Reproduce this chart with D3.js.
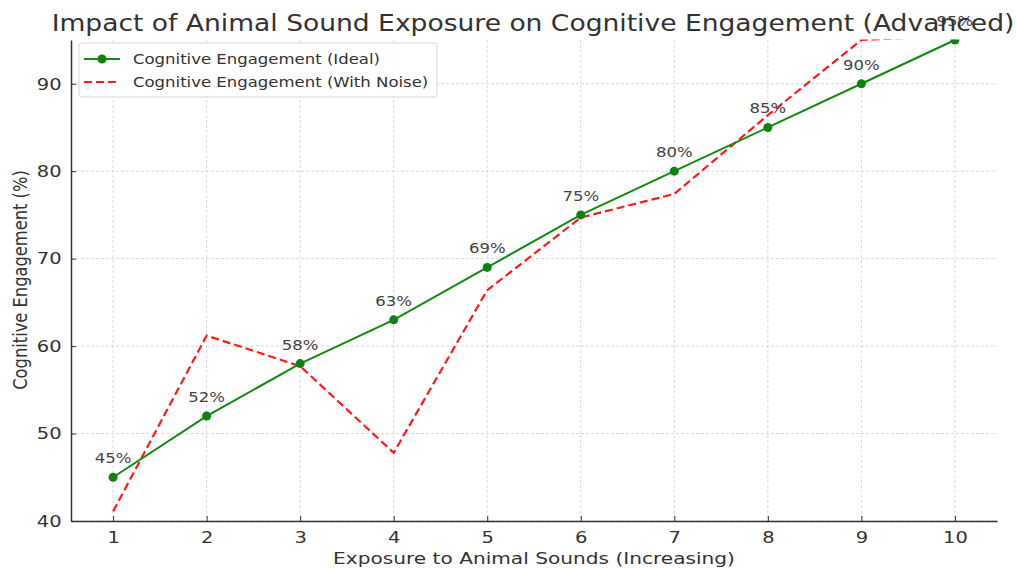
<!DOCTYPE html>
<html><head><meta charset="utf-8">
<script src="https://cdn.jsdelivr.net/npm/d3@7"></script>
<style>body{margin:0;background:#fff;} svg{display:block;font-family:"DejaVu Sans",sans-serif;}</style>
</head><body>
<svg id="c" width="1016" height="569"></svg>
<script>
const exposure = [1,2,3,4,5,6,7,8,9,10];
const idealValues = [45,52,58,63,69,75,80,85,90,95];
const noiseValues = [41.1,61.2,57.7,47.8,66.4,74.7,77.4,86.4,95.0,95.5];
const xTicks = [1,2,3,4,5,6,7,8,9,10];
const yTicks = [40,50,60,70,80,90];
const seriesNames = ["Cognitive Engagement (Ideal)","Cognitive Engagement (With Noise)"];

const SX = 1.18; // horizontal text stretch seen in the reference
const svg = d3.select("#c");
const L=71, R=997, T=40, B=521;
const x = d3.scaleLinear().domain([0.55,10.45]).range([L,R]);
const y = d3.scaleLinear().domain([40,95]).range([B,T]);

function stext(parent, tx, ty, str, size, anchor, sx){
  return parent.append("text").attr("transform",`translate(${tx},${ty}) scale(${sx||SX},1)`)
    .attr("text-anchor",anchor||"middle").attr("font-size",size).attr("fill","#333").text(str);
}

// grid
const g = svg.append("g");
g.selectAll(".gx").data(xTicks).enter().append("line")
  .attr("x1",d=>x(d)).attr("x2",d=>x(d)).attr("y1",T).attr("y2",B)
  .attr("stroke","#cfcfcf").attr("stroke-width",0.8).attr("stroke-dasharray","3,2");
g.selectAll(".gy").data(yTicks).enter().append("line")
  .attr("x1",L).attr("x2",R).attr("y1",d=>y(d)).attr("y2",d=>y(d))
  .attr("stroke","#cfcfcf").attr("stroke-width",0.8).attr("stroke-dasharray","3,2");

// clip
svg.append("clipPath").attr("id","clip").append("rect").attr("x",L).attr("y",T-0.5).attr("width",R-L).attr("height",B-T+0.5);
const plot = svg.append("g").attr("clip-path","url(#clip)");

const line = d3.line().x((d,i)=>x(exposure[i])).y(d=>y(d));
plot.append("path").datum(noiseValues).attr("d",line).attr("fill","none")
  .attr("stroke","#ff1a1a").attr("stroke-width",2.2).attr("stroke-dasharray","8,4");
plot.append("path").datum(idealValues).attr("d",line).attr("fill","none")
  .attr("stroke","#128a12").attr("stroke-width",2);
plot.selectAll(".pt").data(idealValues).enter().append("circle")
  .attr("cx",(d,i)=>x(exposure[i])).attr("cy",d=>y(d)).attr("r",4.5).attr("fill","#108010");

// value labels
idealValues.forEach((d,i)=>{
  stext(svg, x(exposure[i]), y(d)-14, d+"%", 14).attr("fill","#444");
});

// axes
const xa = svg.append("g").attr("transform",`translate(0,${B})`)
  .call(d3.axisBottom(x).tickValues(xTicks).tickSizeInner(-5).tickSizeOuter(0).tickPadding(10));
const ya = svg.append("g").attr("transform",`translate(${L},0)`)
  .call(d3.axisLeft(y).tickValues(yTicks).tickSizeInner(-5).tickSizeOuter(0).tickPadding(8));
[xa,ya].forEach(a=>{
  a.select(".domain").attr("stroke","#333").attr("stroke-width",1.5);
  a.selectAll(".tick line").attr("stroke","#333");
  a.selectAll(".tick text").attr("font-size",16.5).attr("fill","#333")
   .attr("font-family","DejaVu Sans, sans-serif").attr("transform",`scale(${SX},1)`);
});

// titles
stext(svg, 533, 31, "Impact of Animal Sound Exposure on Cognitive Engagement (Advanced)", 22.5);
stext(svg, 534, 564, "Exposure to Animal Sounds (Increasing)", 16.5, "middle", 1.22);
svg.append("text").attr("transform",`translate(27,280) rotate(-90) scale(1,${SX})`).attr("text-anchor","middle")
  .attr("font-size",16.3).attr("fill","#333").text("Cognitive Engagement (%)");

// legend
const lg = svg.append("g");
lg.append("rect").attr("x",79).attr("y",43).attr("width",358).attr("height",54).attr("rx",3)
  .attr("fill","#fff").attr("fill-opacity",0.85).attr("stroke","#d6d6d6");
lg.append("line").attr("x1",84).attr("x2",120).attr("y1",59).attr("y2",59).attr("stroke","#128a12").attr("stroke-width",2);
lg.append("circle").attr("cx",102).attr("cy",59).attr("r",4.5).attr("fill","#108010");
lg.append("line").attr("x1",84).attr("x2",120).attr("y1",82).attr("y2",82).attr("stroke","#ff1a1a").attr("stroke-width",2.2).attr("stroke-dasharray","8,4");
seriesNames.forEach((d,i)=>{
  stext(lg, 133, 64+i*23, d, 14, "start", 1.18);
});
</script>
</body></html>
